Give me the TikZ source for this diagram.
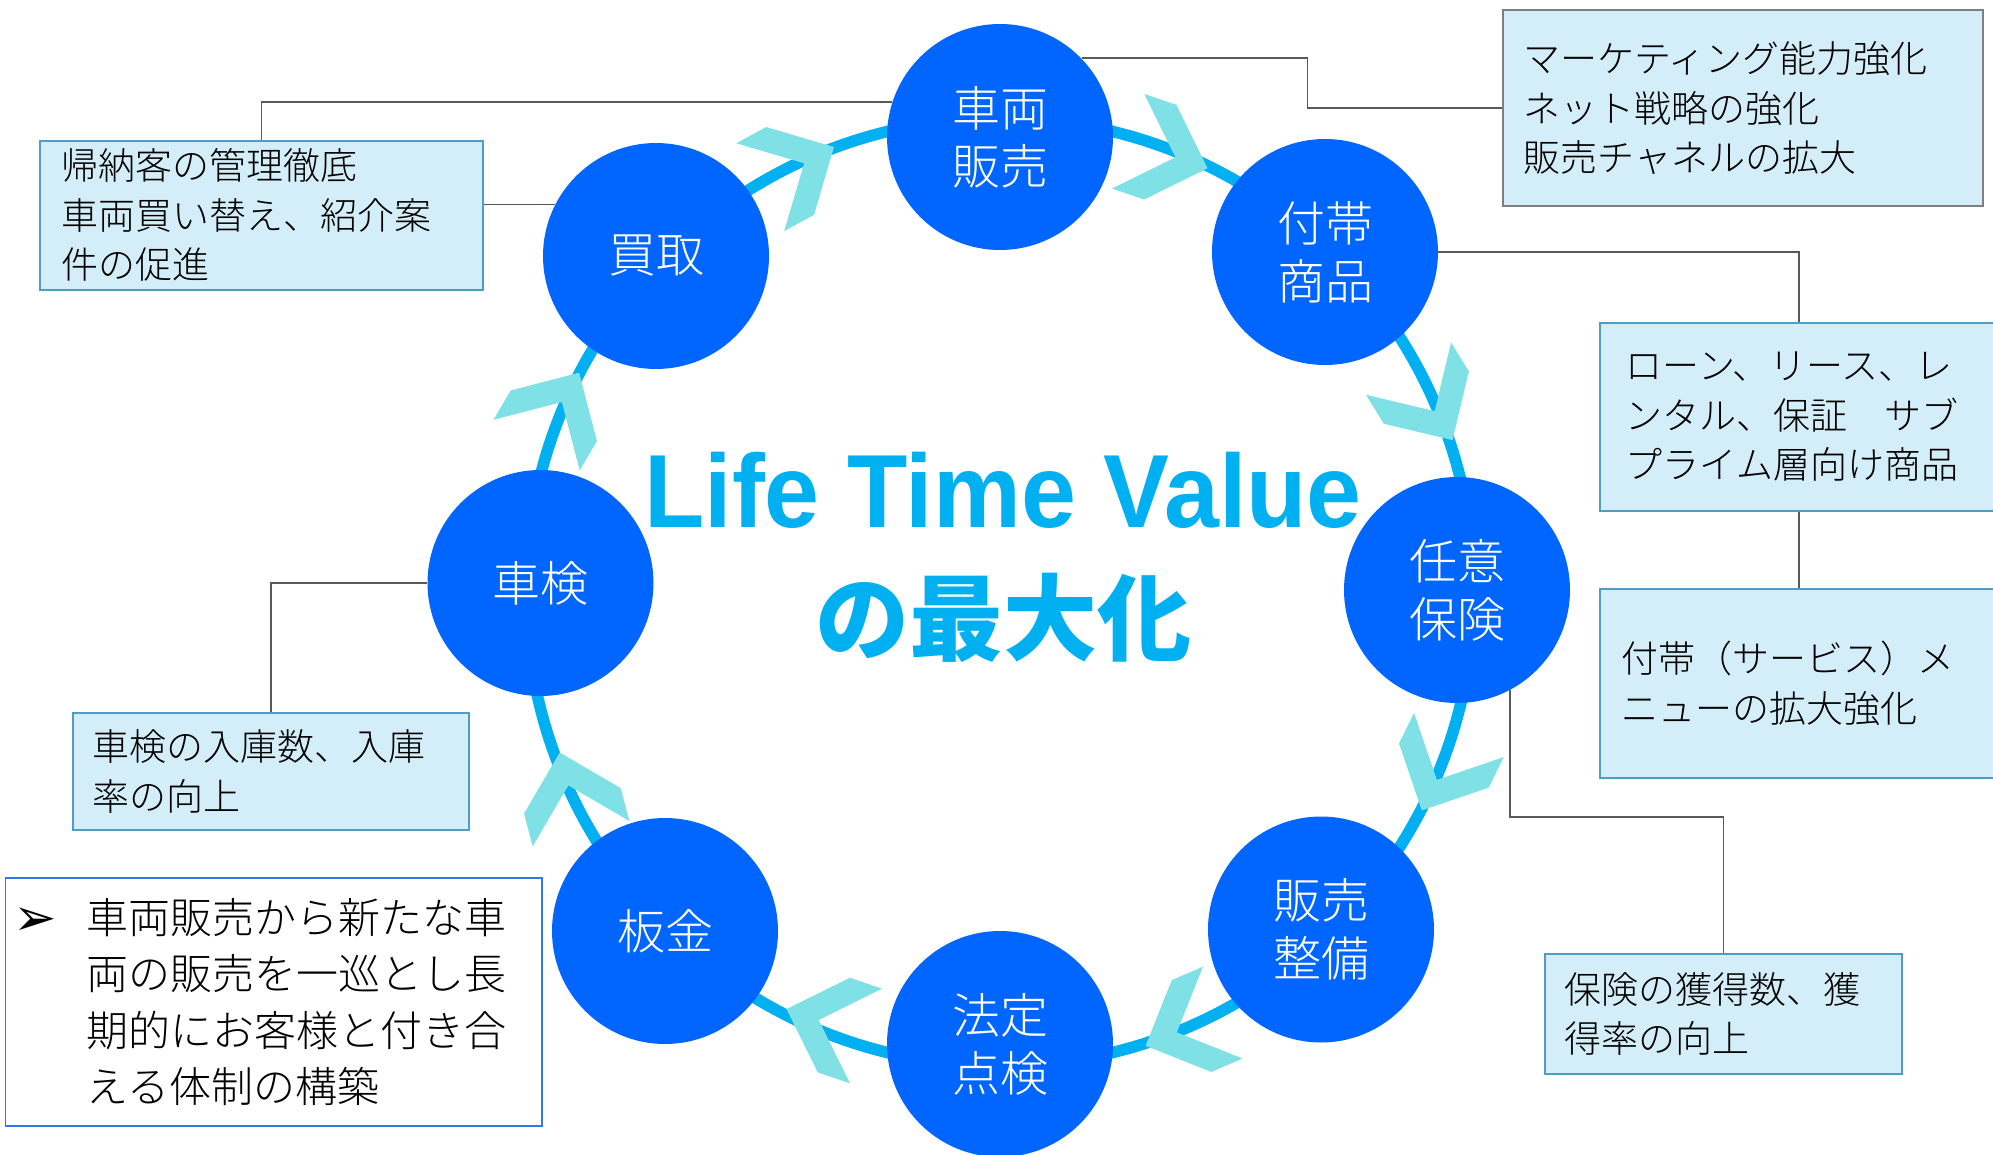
\documentclass[tikz,border=0pt]{standalone}
\usepackage{fontspec}
\IfFontExistsTF{Noto Sans CJK JP Light}{\setmainfont{Noto Sans CJK JP Light}[BoldFont={Noto Sans CJK JP Bold}]}{\setmainfont{Noto Sans CJK JP}}
\newfontfamily\cjkreg{Noto Sans CJK JP}
\newfontfamily\latinbold{Liberation Sans}
\newfontfamily\dejavu{DejaVu Sans}
\definecolor{cblue}{HTML}{0066FF}
\definecolor{ringc}{HTML}{00B0F0}
\definecolor{chevc}{RGB}{127,224,230}
\definecolor{boxfill}{HTML}{D3EEF8}
\definecolor{boxline}{HTML}{4F9CC4}
\definecolor{grayline}{HTML}{7F7F7F}
\definecolor{linec}{HTML}{595959}
\definecolor{blline}{HTML}{3377EE}
\tikzset{
  stage/.style={circle,minimum size=113pt,inner sep=0pt,fill=cblue,text=white,
    font=\fontsize{24}{29}\selectfont,align=center},
  infobox/.style={rectangle,draw=boxline,fill=boxfill,line width=0.9pt,anchor=north west,
    align=left,font=\fontsize{18.5}{24.75}\selectfont,inner ysep=0pt},
  conn/.style={draw=linec,line width=0.75pt},
  chev/.pic={\fill[chevc] (0,0) -- (-50,-50) -- (-84,-50) -- (-34,0) -- (-84,50) -- (-50,50) -- cycle;}
}
\begin{document}
\begin{tikzpicture}[x=0.5pt,y=-0.5pt]
\useasboundingbox (0,0) rectangle (1993,1155);
% ring
\draw[ringc,line width=5.8pt] (1000,592) circle[radius=474];
% chevrons
\pic[rotate=28.6] at (834,147) {chev};
\pic[rotate=-18.8] at (1207.6,168.3) {chev};
\pic[rotate=-58.4] at (1452.5,440.1) {chev};
\pic[rotate=-116.2] at (1421.8,810.4) {chev};
\pic[rotate=-156.7] at (1145.6,1045.8) {chev};
\pic[rotate=161.3] at (786.5,1009.1) {chev};
\pic[rotate=104.7] at (559.7,752.5) {chev};
\pic[rotate=59.6] at (579.1,372.7) {chev};
% stages
\node[stage] (sale) at (1000,137) {車両\\販売};
\node[stage] (futai) at (1325,252) {付帯\\商品};
\node[stage] (nini) at (1457,590) {任意\\保険};
\node[stage] (seibi) at (1321,929.5) {販売\\整備};
\node[stage] (houtei) at (1000,1044) {法定\\点検};
\node[stage] (bankin) at (665,931) {板金};
\node[stage] (shaken) at (540.5,583) {車検};
\node[stage] (kaitori) at (656,256) {買取};
% boxes
\node[infobox,minimum width=221.5pt,minimum height=74.5pt,text width=199.5pt,inner xsep=11pt] (tl) at (39,140)
  {帰納客の管理徹底\\車両買い替え、紹介案\\件の促進};
\node[infobox,draw=grayline,minimum width=240pt,minimum height=98.25pt,text width=219pt,inner xsep=10.5pt] (tr) at (1502,9)
  {マーケティング能力強化\\ネット戦略の強化\\販売チャネルの拡大};
\node[infobox,minimum width=199pt,minimum height=94pt,text width=173pt,inner xsep=13pt] (r1) at (1599,322)
  {ローン、リース、レ\\ンタル、保証　サブ\\プライム層向け商品};
\node[infobox,minimum width=199pt,minimum height=94.5pt,text width=177pt,inner xsep=11pt] (r2) at (1599,588)
  {付帯（サービス）メ\\ニューの拡大強化};
\node[infobox,minimum width=178.5pt,minimum height=60pt,text width=158.5pt,inner xsep=10pt] (r3) at (1544,953)
  {保険の獲得数、獲\\得率の向上};
\node[infobox,minimum width=198pt,minimum height=58.5pt,text width=178pt,inner xsep=10pt] (lb) at (72,712)
  {車検の入庫数、入庫\\率の向上};
\node[infobox,draw=blline,fill=white,minimum width=268.2pt,minimum height=124pt,text width=186.8pt,inner xsep=40.7pt,
  font=\fontsize{21}{28.25}\selectfont] (bl) at (4.6,877)
  {\llap{\raisebox{-1pt}{\dejavu\fontsize{26}{26}\selectfont ➢}\hspace{15pt}}車両販売から新たな車\\両の販売を一巡とし長\\期的にお客様と付き合\\える体制の構築};
% connectors
\draw[conn] (sale.44) -- ++(226,0) |- (tr.west);
\draw[conn] (sale.162.5) -| (tl.north);
\draw[conn] (kaitori.153.6) -- (kaitori.153.6 -| tl.east);
\draw[conn] (futai.east) -| (r1.north);
\draw[conn] (r1.south) -- (r2.north);
\draw[conn] (nini.-62) -- ++(0,127) -| (r3.north);
\draw[conn] (shaken.west) -| (lb.north);
% title
\node[anchor=base,text=ringc,font=\latinbold\bfseries\fontsize{52}{52}\selectfont] (ltv) at (1003,527.7)
  {\scalebox{0.95}[1]{Life Time Value}};
\node[text=ringc,font=\cjkreg\bfseries\fontsize{47}{47}\selectfont] (saidaika) at (1003,618) {の最大化};
\end{tikzpicture}
\end{document}
